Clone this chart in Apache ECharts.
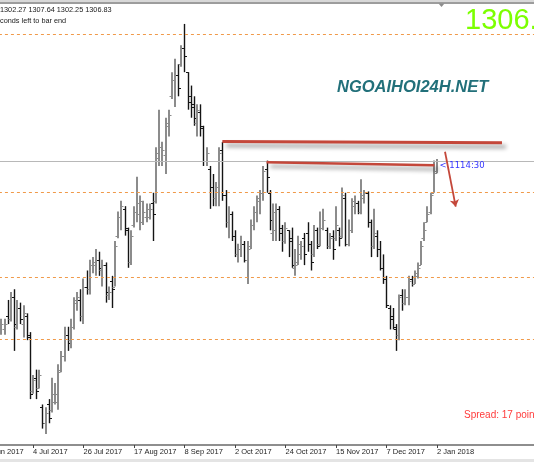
<!DOCTYPE html>
<html><head><meta charset="utf-8">
<script src="https://cdn.jsdelivr.net/npm/echarts@6/dist/echarts.min.js"></script>
<style>html,body{margin:0;padding:0;background:#fff;}#c{width:534px;height:462px;}</style>
</head><body><div id="c"></div><script>
// Daily bars (trading days), first label 12 Jun 2017
const dates = [
'12 Jun 2017','13 Jun 2017','14 Jun 2017','15 Jun 2017','16 Jun 2017','19 Jun 2017','20 Jun 2017','21 Jun 2017','22 Jun 2017','23 Jun 2017','26 Jun 2017','27 Jun 2017','28 Jun 2017','29 Jun 2017','30 Jun 2017',
'3 Jul 2017','4 Jul 2017','5 Jul 2017','6 Jul 2017','7 Jul 2017','10 Jul 2017','11 Jul 2017','12 Jul 2017','13 Jul 2017','14 Jul 2017','17 Jul 2017','18 Jul 2017','19 Jul 2017','20 Jul 2017','21 Jul 2017','24 Jul 2017','25 Jul 2017','26 Jul 2017','27 Jul 2017','28 Jul 2017','31 Jul 2017',
'1 Aug 2017','2 Aug 2017','3 Aug 2017','4 Aug 2017','7 Aug 2017','8 Aug 2017','9 Aug 2017','10 Aug 2017','11 Aug 2017','14 Aug 2017','15 Aug 2017','16 Aug 2017','17 Aug 2017','18 Aug 2017','21 Aug 2017','22 Aug 2017','23 Aug 2017','24 Aug 2017','25 Aug 2017','28 Aug 2017','29 Aug 2017','30 Aug 2017','31 Aug 2017',
'1 Sep 2017','4 Sep 2017','5 Sep 2017','6 Sep 2017','7 Sep 2017','8 Sep 2017','11 Sep 2017','12 Sep 2017','13 Sep 2017','14 Sep 2017','15 Sep 2017','18 Sep 2017','19 Sep 2017','20 Sep 2017','21 Sep 2017','22 Sep 2017','25 Sep 2017','26 Sep 2017','27 Sep 2017','28 Sep 2017','29 Sep 2017',
'2 Oct 2017','3 Oct 2017','4 Oct 2017','5 Oct 2017','6 Oct 2017','9 Oct 2017','10 Oct 2017','11 Oct 2017','12 Oct 2017','13 Oct 2017','16 Oct 2017','17 Oct 2017','18 Oct 2017','19 Oct 2017','20 Oct 2017','23 Oct 2017','24 Oct 2017','25 Oct 2017','26 Oct 2017','27 Oct 2017','30 Oct 2017','31 Oct 2017',
'1 Nov 2017','2 Nov 2017','3 Nov 2017','6 Nov 2017','7 Nov 2017','8 Nov 2017','9 Nov 2017','10 Nov 2017','13 Nov 2017','14 Nov 2017','15 Nov 2017','16 Nov 2017','17 Nov 2017','20 Nov 2017','21 Nov 2017','22 Nov 2017','23 Nov 2017','24 Nov 2017','27 Nov 2017','28 Nov 2017','29 Nov 2017','30 Nov 2017',
'1 Dec 2017','4 Dec 2017','5 Dec 2017','6 Dec 2017','7 Dec 2017','8 Dec 2017','11 Dec 2017','12 Dec 2017','13 Dec 2017','14 Dec 2017','15 Dec 2017','18 Dec 2017','19 Dec 2017','20 Dec 2017','21 Dec 2017','22 Dec 2017','26 Dec 2017','27 Dec 2017','28 Dec 2017','29 Dec 2017',
'2 Jan 2018'
];
// OHLC (first six bars are outside the visible window)
const open = [null,null,null,null,null,null,
1243,1244,1249,1248,1256,1245,1252,1246,1249,1241,
1221,1226,1222,1215,1209,1216,1214,1217,1217,1229,
1234,1242,1240,1245,1254,1255,1249,1260,1259,1268,
1268,1270,1266,1268,1257,1262,1260,1279,1286,1289,
1281,1269,1283,1288,1287,1284,1286,1286,1291,1292,
1308,1307,1309,1320,1331,1337,1339,1343,1349,1340,
1331,1328,1321,1325,1319,1307,1304,1297,1293,1297,
1311,1294,1284,1287,1279,1272,1274,1276,1270,1275,
1283,1288,1292,1295,1304,1295,1280,1281,1289,1282,
1277,1281,1278,1267,1269,1272,1278,1280,1276,1272,
1281,1276,1282,1281,1275,1279,1278,1281,1279,1293,
1276,1281,1290,1291,1288,1293,1295,1284,1275,1279,
1274,1267,1263,1252,1249,1244,1242,1257,1254,1256,
1263,1261,1264,1268,1278,1284,1288,1295,1302.27];
const high = [null,null,null,null,null,null,
1248,1248,1255,1258,1259,1255,1254,1253,1250,1243,
1227,1229,1229,1216,1215,1218,1226,1224,1231,1236,
1245,1245,1248,1256,1258,1259,1263,1266,1270,1271,
1274,1273,1270,1269,1260,1264,1277,1288,1292,1290,
1282,1281,1290,1301,1294,1292,1291,1291,1295,1312,
1326,1314,1323,1326,1340,1345,1343,1350,1358,1340,
1335,1331,1328,1328,1320,1312,1305,1302,1299,1312,
1314,1296,1290,1288,1281,1276,1279,1277,1277,1285,
1290,1294,1296,1305,1307,1296,1291,1291,1290,1283,
1284,1281,1282,1274,1279,1277,1280,1284,1277,1283,
1282,1288,1289,1282,1280,1281,1290,1282,1297,1295,
1285,1293,1294,1292,1300,1296,1295.5,1285,1289,1281,
1277,1272,1264,1253,1252,1246,1257,1259,1259,1264,
1264,1266,1269,1277,1284,1290,1295,1307,1307.64];
const low = [null,null,null,null,null,null,
1242,1242,1246,1247,1236,1244,1246,1241,1240,1218,
1220,1218,1222,1207,1205,1209,1213,1216,1214,1228,
1232,1236,1237,1244,1251,1247,1246,1257,1257,1265,
1264,1264,1260,1254,1255,1252,1260,1278,1281,1279,
1267,1268,1282,1284,1281,1283,1284,1285,1277,1291,
1305,1305,1302,1316,1330,1327,1331,1342,1340,1326,
1323,1320,1316,1316,1305,1305,1289,1290,1290,1290,
1292,1282,1278,1277,1271,1269,1271,1269,1261,1274,
1281,1284,1287,1292,1295,1281,1277,1277,1277,1273,
1276,1271,1267,1264,1268,1270,1268,1273,1266,1271,
1274,1275,1281,1274,1274,1270,1277,1275,1278,1275,
1275,1280,1287,1287,1287,1291,1282,1271,1274,1271,
1266,1261,1252,1244,1244,1236,1240,1251,1253,1253,
1260,1261,1263,1268,1277,1284,1287,1295,1302.25];
const close = [null,null,null,null,null,null,
1246,1246,1248,1256,1246,1252,1248,1250,1242,1220,
1225,1221,1227,1209,1213,1211,1220,1220,1228,1234,
1242,1239,1245,1255,1256,1249,1260,1259,1268,1269,
1270,1267,1268,1258,1258,1259,1275,1286,1290,1282,
1269,1279,1288,1291,1292,1288,1289,1289,1287,1310,
1312,1311,1321,1324,1337,1339,1334,1349,1346,1329,
1327,1323,1326,1320,1307,1310,1297,1293,1297,1310,
1294,1284,1287,1279,1272,1274,1276,1270,1274,1283,
1288,1293,1295,1303,1301,1285,1288,1289,1280,1277,
1282,1277,1268,1268,1276,1275,1272,1276,1269,1281,
1275,1282,1285,1275,1278,1274,1283,1278,1294,1276,
1281,1292,1291,1288,1294,1295,1284,1275,1280,1274,
1267,1263,1253,1248,1245,1242,1256,1254,1256,1262,
1261,1265,1267,1275,1281,1287,1294,1303,1306.83];
// horizontal levels drawn on the chart
const levels = [1354.06, 1295.10, 1263.38, 1240.25];
// trend lines: [barIndex, price] pairs
const trendLines = [
  [[76, 1314.1], [164.6, 1313.7]],
  [[90, 1306.4], [143.2, 1305.3]]
];
const arrowLine = [[146.55, 1310.3], [149.95, 1289.8]];
const countdown = '1114:30';
const spreadPoints = 17;

const N = 180; // category slots incl. right-hand chart shift
const cats = dates.slice();
for (let k = dates.length; k < N; k++) cats.push('f' + k);
const labelShown = (idx) => idx % 16 === 0 && idx < dates.length;

const bars = [];
dates.forEach((d, i) => { if (open[i] != null) bars.push([i, open[i], high[i], low[i], close[i]]); });
const last = dates.length - 1;

const chart = echarts.init(document.getElementById('c'), null, {renderer: 'canvas'});
chart.setOption({
  animation: false,
  backgroundColor: '#ffffff',
  grid: {left: -19.08, right: -15, top: 3, bottom: 17, show: true, borderColor: '#3a3a3a', borderWidth: 1,
         backgroundColor: '#ffffff', containLabel: false, outerBoundsMode: 'none'},
  xAxis: [
    {type: 'category', data: cats, boundaryGap: true,
     axisLine: {lineStyle: {color: '#8a8a8a', width: 1.5}},
     axisTick: {show: true, alignWithLabel: true, interval: labelShown, length: 3, lineStyle: {color: '#444'}},
     axisLabel: {interval: labelShown, align: 'left', margin: 3, color: '#1e1e1e', fontSize: 7.5, fontFamily: 'Liberation Sans'},
     splitLine: {show: false}},
    {type: 'value', min: -0.5, max: N - 0.5, show: false}
  ],
  yAxis: {type: 'value', min: 1200.88, max: 1365.81, show: false, splitLine: {show: false}},
  series: [
    {type: 'line', xAxisIndex: 1, data: [], z: 1, silent: true,
     markLine: {symbol: ['none', 'none'], silent: true, animation: false, label: {show: false},
       data: levels.map(v => ({yAxis: v, lineStyle: {color: '#f09a4a', type: [3, 3], width: 1, opacity: 1}}))
         .concat([{yAxis: close[last], lineStyle: {color: '#b8b8b8', type: 'solid', width: 1, opacity: 1}}])},
     markPoint: {symbol: 'circle', symbolSize: 1, itemStyle: {color: 'rgba(0,0,0,0)'}, silent: true, animation: false,
       label: {show: true, position: 'right', distance: 2, offset: [0, 5], formatter: '< ' + countdown,
               color: '#3535ff', fontFamily: 'DejaVu Sans', fontSize: 8.5},
       data: [{coord: [last, close[last]]}]}
    },
    {type: 'custom', xAxisIndex: 0, z: 3, silent: true, data: bars, encode: {x: 0, y: [1, 2, 3, 4]},
     renderItem: function (params, api) {
       const i = api.value(0), o = api.value(1), h = api.value(2), l = api.value(3), c = api.value(4);
       const pH = api.coord([i, h]), pL = api.coord([i, l]), pO = api.coord([i, o]), pC = api.coord([i, c]);
       const up = c >= o;
       const color = up ? '#8c8c8c' : '#141414';
       const x = up ? Math.round(pH[0]) : Math.round(pH[0]) + 0.5;
       const yo = Math.round(pO[1]) + 0.5, yc = Math.round(pC[1]) + 0.5;
       return {type: 'group', children: [
         {type: 'line', shape: {x1: x, y1: pH[1], x2: x, y2: pL[1]}, style: {stroke: color, lineWidth: up ? 2 : 1.4}},
         {type: 'line', shape: {x1: x - 2.5, y1: yo, x2: x, y2: yo}, style: {stroke: color, lineWidth: 1}},
         {type: 'line', shape: {x1: x, y1: yc, x2: x + 2.5, y2: yc}, style: {stroke: color, lineWidth: 1}}
       ]};
     }},
    {type: 'lines', coordinateSystem: 'cartesian2d', xAxisIndex: 1, yAxisIndex: 0, z: 5, silent: true,
     symbol: ['none', 'none'],
     lineStyle: {color: '#c4473a', width: 3, opacity: 1, shadowColor: 'rgba(0,0,0,0.42)', shadowBlur: 4, shadowOffsetX: 4, shadowOffsetY: 4},
     data: trendLines.map((c, k) => ({coords: c, lineStyle: {width: k === 0 ? 3 : 2.5}}))},
    {type: 'lines', coordinateSystem: 'cartesian2d', xAxisIndex: 1, yAxisIndex: 0, z: 5, silent: true,
     symbol: ['none', 'arrow'], symbolSize: 7,
     lineStyle: {color: '#c4473a', width: 1.8, opacity: 1},
     data: [{coords: arrowLine}]}
  ],
  graphic: [
    {type: 'rect', shape: {x: 0, y: 0, width: 534, height: 2}, style: {fill: '#d8d8d8'}, silent: true},
    {type: 'rect', shape: {x: 0, y: 459, width: 534, height: 3}, style: {fill: '#e4e4e4'}, silent: true},
    {type: 'polygon', shape: {points: [[438.5, 3.5], [444.5, 3.5], [441.5, 7]]}, style: {fill: '#8c8c8c'}, silent: true},
    {type: 'text', x: 0, y: 10, silent: true,
     style: {text: [open[last], high[last], low[last], close[last]].map(v => v.toFixed(2)).join(' '),
             fill: '#1a1a1a', font: '7.3px "Liberation Sans"', textAlign: 'left', textVerticalAlign: 'middle', verticalAlign: 'middle'}},
    {type: 'text', x: -7.7, y: 20.5, silent: true,
     style: {text: 'seconds left to bar end', fill: '#1a1a1a', font: '7.3px "Liberation Sans"', textAlign: 'left', textVerticalAlign: 'middle', verticalAlign: 'middle'}},
    {type: 'text', x: 465, y: 21, silent: true,
     style: {text: close[last].toFixed(2), fill: '#7cff00', font: '29px "Liberation Sans"', textAlign: 'left', textVerticalAlign: 'middle', verticalAlign: 'middle'}},
    {type: 'text', x: 337, y: 87, silent: true,
     style: {text: 'NGOAIHOI24H.NET', fill: '#22707a', font: 'italic bold 16.5px "Liberation Sans"', textAlign: 'left', textVerticalAlign: 'middle', verticalAlign: 'middle'}},
    {type: 'text', x: 464, y: 415, silent: true,
     style: {text: 'Spread: ' + spreadPoints + ' points', fill: '#ff3b3b', font: '10px "Liberation Sans"', textAlign: 'left', textVerticalAlign: 'middle', verticalAlign: 'middle'}}
  ]
});
</script></body></html>
